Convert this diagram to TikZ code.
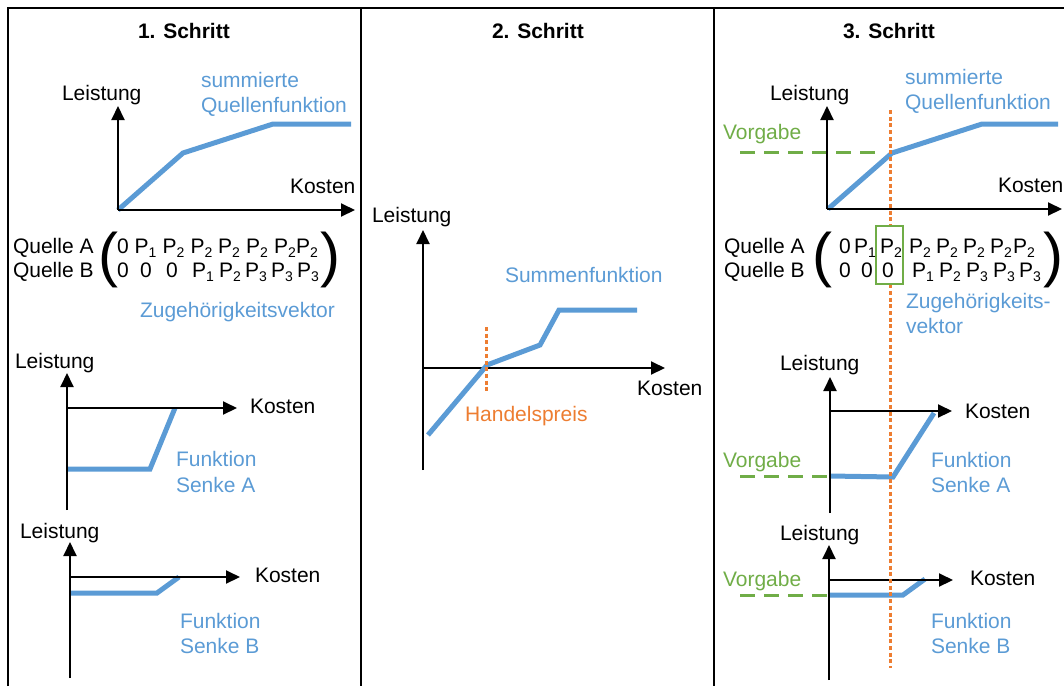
\documentclass[tikz,border=0pt]{standalone}
\usepackage{fontspec}
\setmainfont{Liberation Sans}
\usetikzlibrary{arrows.meta}
\definecolor{curveblue}{HTML}{5B9BD5}
\definecolor{markorange}{HTML}{ED7D31}
\definecolor{goalgreen}{HTML}{70AD47}
% P with a lowered index, as in the assignment vectors
\newcommand\Psub[1]{P\raisebox{-4.5pt}{\fontsize{14}{14}\selectfont #1}}
\tikzset{
  lbl/.style={anchor=base west, inner sep=0pt, outer sep=0pt, font=\fontsize{21}{25}\selectfont},
  bluelbl/.style={lbl, text=curveblue},
  greenlbl/.style={lbl, text=goalgreen},
  orangelbl/.style={lbl, text=markorange},
  titlelbl/.style={lbl, font=\fontsize{21}{25}\selectfont\bfseries},
  paren/.style={inner sep=0pt, outer sep=0pt, font=\fontsize{60}{60}\selectfont},
  axis/.style={line width=2pt, -{Triangle[length=14pt,width=13pt]}},
  curve/.style={line width=5pt, curveblue},
  goal/.style={line width=3pt, goalgreen, dash pattern=on 15pt off 9pt},
  price/.style={line width=3pt, markorange, dash pattern=on 4pt off 2.7pt},
  frame/.style={line width=2.2pt},
  pick/.style={line width=2pt, goalgreen, fill=white}
}
\begin{document}
\begin{tikzpicture}[x=1pt,y=-1pt]
\useasboundingbox (0,0) rectangle (1064,686);

% panel frame
\coordinate (fbl) at (8,686);
\coordinate (ftl) at (8,8);
\coordinate (ftr) at (1064,8);
\coordinate (d1t) at (361,8);
\coordinate (d1b) at (361,686);
\coordinate (d2t) at (714,8);
\coordinate (d2b) at (714,686);
\draw[frame] (fbl) -- (ftl) -- (ftr);
\draw[frame] (d1t) -- (d1b);
\draw[frame] (d2t) -- (d2b);

% titles
\node[titlelbl] (t1) at (138,38) {1. Schritt};
\node[titlelbl] (t2) at (492,38) {2. Schritt};
\node[titlelbl] (t3) at (843,38) {3. Schritt};

%% ---------- step 1 ----------
% summed source function
\coordinate (a1o) at (118,210);
\coordinate (a1y) at (118,106);
\coordinate (a1x) at (355,210);
\draw[curve] (118,210) -- (183,153) -- (273,124) -- (351,124);
\draw[axis] (a1o) -- (a1y);
\draw[axis] (a1o) -- (a1x);
\node[lbl] (a1ly) at (62,100) {Leistung};
\node[lbl] (a1lx) at (290,193) {Kosten};
\node[bluelbl] (a1s1) at (201,87) {summierte};
\node[bluelbl] (a1s2) at (201,112) {Quellenfunktion};

% assignment vector
\node[lbl] (q1a) at (13,253) {Quelle A};
\node[lbl] (q1b) at (13,277) {Quelle B};
\node[paren] (p1l) at (108,259.5) {(};
\node[paren] (p1r) at (330,259.5) {)};
\foreach \x/\t [count=\i] in {117/0,134.5/{\Psub{1}},162.5/{\Psub{2}},190.5/{\Psub{2}},218/{\Psub{2}},246/{\Psub{2}},274/{\Psub{2}},296/{\Psub{2}}}
  \node[lbl] (v1a\i) at (\x,253) {\t};
\foreach \x/\t [count=\i] in {117/0,140/0,166/0,192/{\Psub{1}},219/{\Psub{2}},245/{\Psub{3}},271/{\Psub{3}},297/{\Psub{3}}}
  \node[lbl] (v1b\i) at (\x,277) {\t};
\node[bluelbl] (z1) at (140,317) {Zugehörigkeitsvektor};

% sink A
\coordinate (s1ab) at (67,510);
\coordinate (s1ay) at (67,373);
\coordinate (s1ao) at (67,408);
\coordinate (s1ax) at (237,408);
\draw[curve] (67,469) -- (150,469) -- (175,408);
\draw[axis] (s1ab) -- (s1ay);
\draw[axis] (s1ao) -- (s1ax);
\node[lbl] (s1aly) at (15,368) {Leistung};
\node[lbl] (s1alx) at (250,413) {Kosten};
\node[bluelbl] (s1af1) at (176,466) {Funktion};
\node[bluelbl] (s1af2) at (176,492) {Senke A};

% sink B
\coordinate (s1bb) at (70,678);
\coordinate (s1by) at (70,542);
\coordinate (s1bo) at (70,577);
\coordinate (s1bx) at (240,577);
\draw[curve] (70,593) -- (157,593) -- (179,577);
\draw[axis] (s1bb) -- (s1by);
\draw[axis] (s1bo) -- (s1bx);
\node[lbl] (s1bly) at (20,538) {Leistung};
\node[lbl] (s1blx) at (255,582) {Kosten};
\node[bluelbl] (s1bf1) at (180,628) {Funktion};
\node[bluelbl] (s1bf2) at (180,653) {Senke B};

%% ---------- step 2 ----------
\coordinate (a2b) at (423,470);
\coordinate (a2y) at (423,230);
\coordinate (a2o) at (423,368);
\coordinate (a2x) at (665,368);
\draw[axis] (a2b) -- (a2y);
\draw[axis] (a2o) -- (a2x);
\draw[curve] (428,435) -- (487,365) -- (540,345) -- (559,310) -- (637,310);
\coordinate (h2t) at (486,327);
\coordinate (h2b) at (486,392);
\draw[price] (h2t) -- (h2b);
\node[lbl] (a2ly) at (372,222) {Leistung};
\node[lbl] (a2lx) at (637,395) {Kosten};
\node[bluelbl] (sum2) at (505,282) {Summenfunktion};
\node[orangelbl] (hp2) at (465,421) {Handelspreis};

%% ---------- step 3 ----------
% summed source function with target
\coordinate (a3o) at (827,209);
\coordinate (a3y) at (827,106);
\coordinate (a3x) at (1062,209);
\coordinate (g3l) at (740,152);
\coordinate (g3r) at (875,152);
\draw[goal] (g3l) -- (g3r);
\draw[curve] (828,209) -- (892,153) -- (982,124) -- (1058,124);
\draw[axis] (a3o) -- (a3y);
\draw[axis] (a3o) -- (a3x);
\node[lbl] (a3ly) at (770,100) {Leistung};
\node[lbl] (a3lx) at (998,192) {Kosten};
\node[bluelbl] (a3s1) at (905,84) {summierte};
\node[bluelbl] (a3s2) at (905,109) {Quellenfunktion};
\node[greenlbl] (vg1) at (723,139) {Vorgabe};

% sink A with target
\coordinate (s3ab) at (830,513);
\coordinate (s3ay) at (830,377);
\coordinate (s3ao) at (830,411);
\coordinate (s3ax) at (952,411);
\coordinate (g3al) at (740,476);
\coordinate (g3ar) at (850,476);
\draw[goal] (g3al) -- (g3ar);
\draw[curve] (830,476) -- (893,477) -- (934,413);
\draw[axis] (s3ab) -- (s3ay);
\draw[axis] (s3ao) -- (s3ax);
\node[lbl] (s3aly) at (780,370) {Leistung};
\node[lbl] (s3alx) at (965,418) {Kosten};
\node[greenlbl] (vg2) at (723,467) {Vorgabe};
\node[bluelbl] (s3af1) at (931,467) {Funktion};
\node[bluelbl] (s3af2) at (931,492) {Senke A};

% sink B with target
\coordinate (s3bb) at (829,680);
\coordinate (s3by) at (829,545);
\coordinate (s3bo) at (829,580);
\coordinate (s3bx) at (953,580);
\coordinate (g3bl) at (740,595);
\coordinate (g3br) at (850,595);
\draw[goal] (g3bl) -- (g3br);
\draw[curve] (828,595) -- (903,595) -- (925,579);
\draw[axis] (s3bb) -- (s3by);
\draw[axis] (s3bo) -- (s3bx);
\node[lbl] (s3bly) at (780,540) {Leistung};
\node[lbl] (s3blx) at (970,585) {Kosten};
\node[greenlbl] (vg3) at (723,586) {Vorgabe};
\node[bluelbl] (s3bf1) at (931,628) {Funktion};
\node[bluelbl] (s3bf2) at (931,653) {Senke B};

% trading price line through all three charts
\coordinate (h3t) at (890,110);
\coordinate (h3b) at (890,668);
\draw[price] (h3t) -- (h3b);

% assignment vector with the selected column
\node[draw, pick, minimum width=27pt, minimum height=58pt, inner sep=0pt] (sel) at (889.5,255) {};
\node[lbl] (q3a) at (724,253) {Quelle A};
\node[lbl] (q3b) at (724,277) {Quelle B};
\node[paren] (p3l) at (822,259.5) {(};
\node[paren] (p3r) at (1053,259.5) {)};
\foreach \x/\t [count=\i] in {839/0,854/{\Psub{1}},880/{\Psub{2}},909/{\Psub{2}},936/{\Psub{2}},963/{\Psub{2}},990/{\Psub{2}},1013/{\Psub{2}}}
  \node[lbl] (v3a\i) at (\x,253) {\t};
\foreach \x/\t [count=\i] in {839/0,861/0,882/0,912/{\Psub{1}},939/{\Psub{2}},966/{\Psub{3}},993/{\Psub{3}},1019/{\Psub{3}}}
  \node[lbl] (v3b\i) at (\x,277) {\t};
\node[bluelbl] (z3a) at (906,308) {Zugehörigkeits-};
\node[bluelbl] (z3b) at (906,333) {vektor};
\end{tikzpicture}
\end{document}
